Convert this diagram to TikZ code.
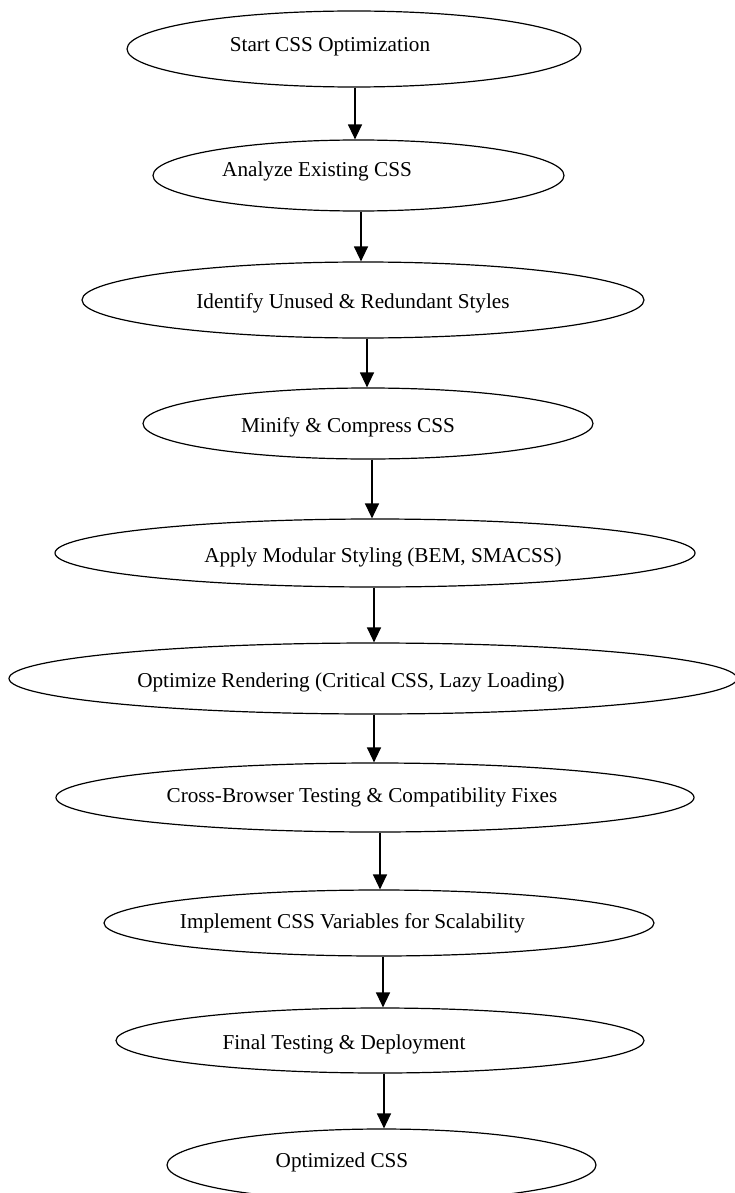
\documentclass[tikz,border=0pt]{standalone}
\usepackage{fontspec}
\setmainfont{Liberation Serif}
\usetikzlibrary{shapes.geometric,arrows.meta}
\tikzset{
  flowell/.style={draw=black, line width=1.2pt, ellipse, inner sep=0pt, fill=none},
  flowarr/.style={draw=black, line width=1.3pt, -{Triangle[length=15pt,width=14pt]}},
  flowtxt/.style={font=\fontsize{21.2}{25}\selectfont, inner sep=0pt}
}
\begin{document}
\begin{tikzpicture}[x=1pt,y=-1pt]
\useasboundingbox[fill=white] (0,0) rectangle (734,1193);
\node[flowell, minimum width=454pt, minimum height=76pt,
  label={[flowtxt,xshift=-24pt,yshift=2pt]center:Start CSS Optimization}] (e1) at (354,49) {};
\node[flowell, minimum width=411pt, minimum height=71pt,
  label={[flowtxt,xshift=-41.5pt,yshift=4.5pt]center:Analyze Existing CSS}] (e2) at (358.5,175.5) {};
\node[flowell, minimum width=562pt, minimum height=76pt,
  label={[flowtxt,xshift=-10pt,yshift=-3pt]center:Identify Unused \& Redundant Styles}] (e3) at (363,300) {};
\node[flowell, minimum width=450pt, minimum height=71pt,
  label={[flowtxt,xshift=-20pt,yshift=-3.5pt]center:Minify \& Compress CSS}] (e4) at (368,423.5) {};
\node[flowell, minimum width=640pt, minimum height=68pt,
  label={[flowtxt,xshift=8pt,yshift=-4pt]center:Apply Modular Styling (BEM, SMACSS)}] (e5) at (375,553) {};
\node[flowell, minimum width=728pt, minimum height=71pt,
  label={[flowtxt,xshift=-22pt,yshift=-3.5pt]center:Optimize Rendering (Critical CSS, Lazy Loading)}] (e6) at (373,678.5) {};
\node[flowell, minimum width=638pt, minimum height=69pt,
  label={[flowtxt,xshift=-13pt,yshift=0pt]center:Cross-Browser Testing \& Compatibility Fixes}] (e7) at (375,797.5) {};
\node[flowell, minimum width=550pt, minimum height=66pt,
  label={[flowtxt,xshift=-26.5pt,yshift=0pt]center:Implement CSS Variables for Scalability}] (e8) at (379,923) {};
\node[flowell, minimum width=528pt, minimum height=65pt,
  label={[flowtxt,xshift=-36pt,yshift=-3.5pt]center:Final Testing \& Deployment}] (e9) at (380,1040.5) {};
\node[flowell, minimum width=429pt, minimum height=72pt,
  label={[flowtxt,xshift=-39.5pt,yshift=3pt]center:Optimized CSS}] (e10) at (381.5,1165) {};
\coordinate (c1) at (355,0);
\coordinate (c2) at (361,0);
\coordinate (c3) at (367,0);
\coordinate (c4) at (372,0);
\coordinate (c5) at (374,0);
\coordinate (c6) at (374,0);
\coordinate (c7) at (380,0);
\coordinate (c8) at (383,0);
\coordinate (c9) at (384,0);
\draw[flowarr] (e1.south -| c1) -- (e2.north -| c1);
\draw[flowarr] (e2.south -| c2) -- (e3.north -| c2);
\draw[flowarr] (e3.south -| c3) -- (e4.north -| c3);
\draw[flowarr] (e4.south -| c4) -- (e5.north -| c4);
\draw[flowarr] (e5.south -| c5) -- (e6.north -| c5);
\draw[flowarr] (e6.south -| c6) -- (e7.north -| c6);
\draw[flowarr] (e7.south -| c7) -- (e8.north -| c7);
\draw[flowarr] (e8.south -| c8) -- (e9.north -| c8);
\draw[flowarr] (e9.south -| c9) -- (e10.north -| c9);
\end{tikzpicture}
\end{document}
